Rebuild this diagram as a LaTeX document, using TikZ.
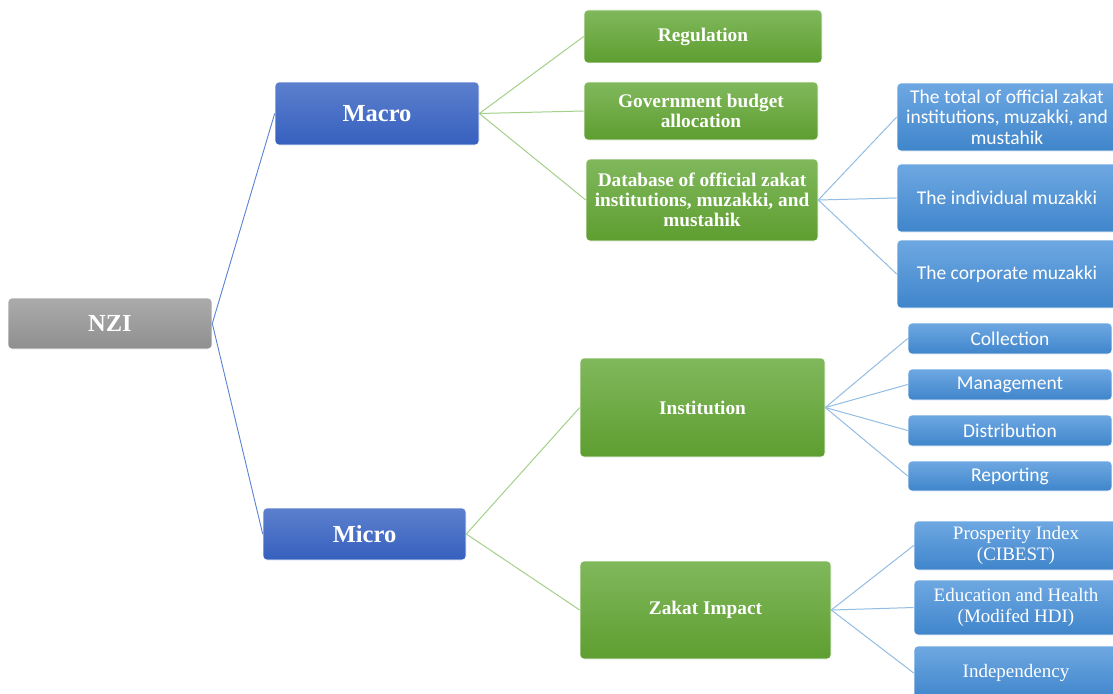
\documentclass[tikz,border=0pt]{standalone}
\usepackage{fontspec}
\setmainfont{Liberation Serif}
\newfontfamily\calfont{Carlito}
\definecolor{gtop}{HTML}{80B85C}
\definecolor{gbot}{HTML}{5E9E30}
\definecolor{btop}{HTML}{5C80CE}
\definecolor{bbot}{HTML}{3660BE}
\definecolor{ltop}{HTML}{6EA8E2}
\definecolor{lbot}{HTML}{3F85CB}
\definecolor{ntop}{HTML}{ABABAB}
\definecolor{nbot}{HTML}{8F8F8F}
\definecolor{lnblue}{HTML}{5A82D2}
\definecolor{lngreen}{HTML}{A3D08A}
\definecolor{lnlight}{HTML}{93BDE4}
\tikzset{
  basebox/.style={rounded corners=4pt, inner sep=2pt, align=center, text=white, draw=white, line width=0.6pt},
  nzibox/.style={basebox, top color=ntop, bottom color=nbot, font=\fontsize{24.5}{26}\selectfont\bfseries},
  mbox/.style={basebox, top color=btop, bottom color=bbot, font=\fontsize{24.5}{26}\selectfont\bfseries},
  gbox/.style={basebox, top color=gtop, bottom color=gbot, font=\fontsize{19.3}{19.8}\selectfont\bfseries},
  lbox/.style={basebox, top color=ltop, bottom color=lbot, font=\calfont\fontsize{19.5}{20.5}\selectfont},
  sbox/.style={basebox, top color=ltop, bottom color=lbot, font=\fontsize{19}{20.5}\selectfont},
  l1/.style={draw=lnblue, line width=0.9pt},
  l2/.style={draw=lngreen, line width=1pt},
  l3/.style={draw=lnlight, line width=1pt},
}
\begin{document}
\begin{tikzpicture}[x=1pt,y=-1pt]
\useasboundingbox (0,0) rectangle (1113,693);
\clip (0,0) rectangle (1113,693);
\fill[white] (0,0) rectangle (1113,693);
\node[nzibox, minimum width=204pt, minimum height=51pt] (nzi) at (110,323.5) {NZI};
\node[mbox, minimum width=204pt, minimum height=63pt] (macro) at (377,113.5) {Macro};
\node[mbox, minimum width=203pt, minimum height=52pt] (micro) at (364.5,534) {Micro};
\node[gbox, minimum width=238pt, minimum height=53pt] (reg) at (703,36.5) {Regulation};
\node[gbox, minimum width=234pt, minimum height=58pt] (gov) at (701,111) {Government budget\\allocation};
\node[gbox, minimum width=232pt, minimum height=82pt] (db) at (702,200) {Database of official zakat\\institutions, muzakki, and\\mustahik};
\node[gbox, minimum width=245pt, minimum height=99pt] (inst) at (702.5,407.5) {Institution};
\node[gbox, minimum width=251pt, minimum height=98pt] (zak) at (705.5,610) {Zakat Impact};
\node[lbox, minimum width=220pt, minimum height=68pt] (tot) at (1007,117) {The total of official zakat\\institutions, muzakki, and\\mustahik};
\node[lbox, minimum width=220pt, minimum height=68pt] (ind) at (1007,198) {The individual muzakki};
\node[lbox, minimum width=220pt, minimum height=68pt] (cor) at (1007,274) {The corporate muzakki};
\node[lbox, minimum width=204pt, minimum height=31pt] (col) at (1010,338.5) {Collection};
\node[lbox, minimum width=204pt, minimum height=31pt] (man) at (1010,384.5) {Management};
\node[lbox, minimum width=204pt, minimum height=31pt] (dis) at (1010,430.5) {Distribution};
\node[lbox, minimum width=204pt, minimum height=30pt] (rep) at (1010,476) {Reporting};
\node[sbox, minimum width=204pt, minimum height=49pt] (pro) at (1016,545.5) {Prosperity Index\\(CIBEST)};
\node[sbox, minimum width=204pt, minimum height=55pt] (edu) at (1016,607.5) {Education and Health\\(Modifed HDI)};
\node[sbox, minimum width=204pt, minimum height=54pt] (inde) at (1016,673) {Independency};
\draw[l1] (nzi.east) -- (macro.west);
\draw[l1] (nzi.east) -- (micro.west);
\draw[l2] (macro.east) -- (reg.west);
\draw[l2] (macro.east) -- (gov.west);
\draw[l2] (macro.east) -- (db.west);
\draw[l2] (micro.east) -- (inst.west);
\draw[l2] (micro.east) -- (zak.west);
\draw[l3] (db.east) -- (tot.west);
\draw[l3] (db.east) -- (ind.west);
\draw[l3] (db.east) -- (cor.west);
\draw[l3] (inst.east) -- (col.west);
\draw[l3] (inst.east) -- (man.west);
\draw[l3] (inst.east) -- (dis.west);
\draw[l3] (inst.east) -- (rep.west);
\draw[l3] (zak.east) -- (pro.west);
\draw[l3] (zak.east) -- (edu.west);
\draw[l3] (zak.east) -- (inde.west);
\end{tikzpicture}
\end{document}
